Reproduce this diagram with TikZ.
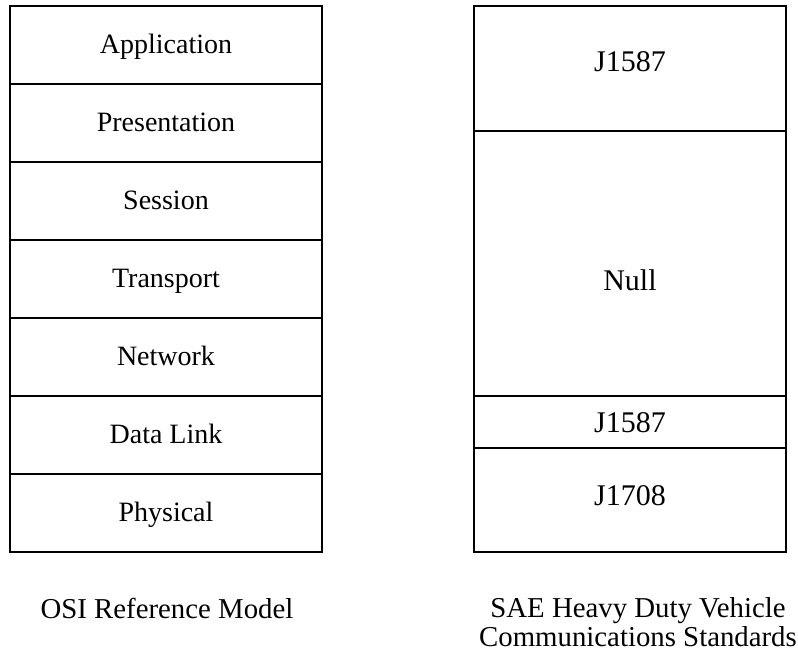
\documentclass[tikz,border=0pt]{standalone}
\usepackage{fontspec}
\setmainfont{Liberation Serif}
\usepackage{tikz}
\usetikzlibrary{positioning}

\begin{document}
\begin{tikzpicture}[x=1pt,y=-1pt]

\tikzstyle{layer} = [rectangle, minimum width=312pt, inner sep=0pt, outer sep=0pt, text centered, text depth=0pt, draw=black, line width=1.6pt]
\tikzstyle{osi} = [layer, minimum height=78pt, text height=16pt, font=\fontsize{28}{33}\selectfont]
\tikzstyle{sae} = [layer, font=\fontsize{30}{35}\selectfont]
\tikzstyle{caption} = [inner sep=0pt, align=center, font=\fontsize{28.8}{29.5}\selectfont]

\useasboundingbox (0,0) rectangle (798,654);

% OSI reference model
\node (application) [osi] at (166,45) {Application};
\node (presentation) [osi, below=0pt of application] {Presentation};
\node (session) [osi, below=0pt of presentation] {Session};
\node (transport) [osi, below=0pt of session] {Transport};
\node (network) [osi, below=0pt of transport] {Network};
\node (datalink) [osi, below=0pt of network] {Data Link};
\node (physical) [osi, below=0pt of datalink] {Physical};

% SAE standards
\node (j1587top) [sae, minimum height=125pt, text height=5pt] at (630,68.5) {J1587};
\node (null) [sae, minimum height=265pt, text height=53pt, below=0pt of j1587top] {Null};
\node (j1587) [sae, minimum height=52pt, text height=20pt, below=0pt of null] {J1587};
\node (j1708) [sae, minimum height=104pt, text height=10pt, below=0pt of j1587] {J1708};

% captions
\node (osicap) [caption, anchor=base] at (167,618) {OSI Reference Model};
\node (saecap) [caption, anchor=north] at (638,597) {SAE Heavy Duty Vehicle\\Communications Standards};

\end{tikzpicture}
\end{document}
